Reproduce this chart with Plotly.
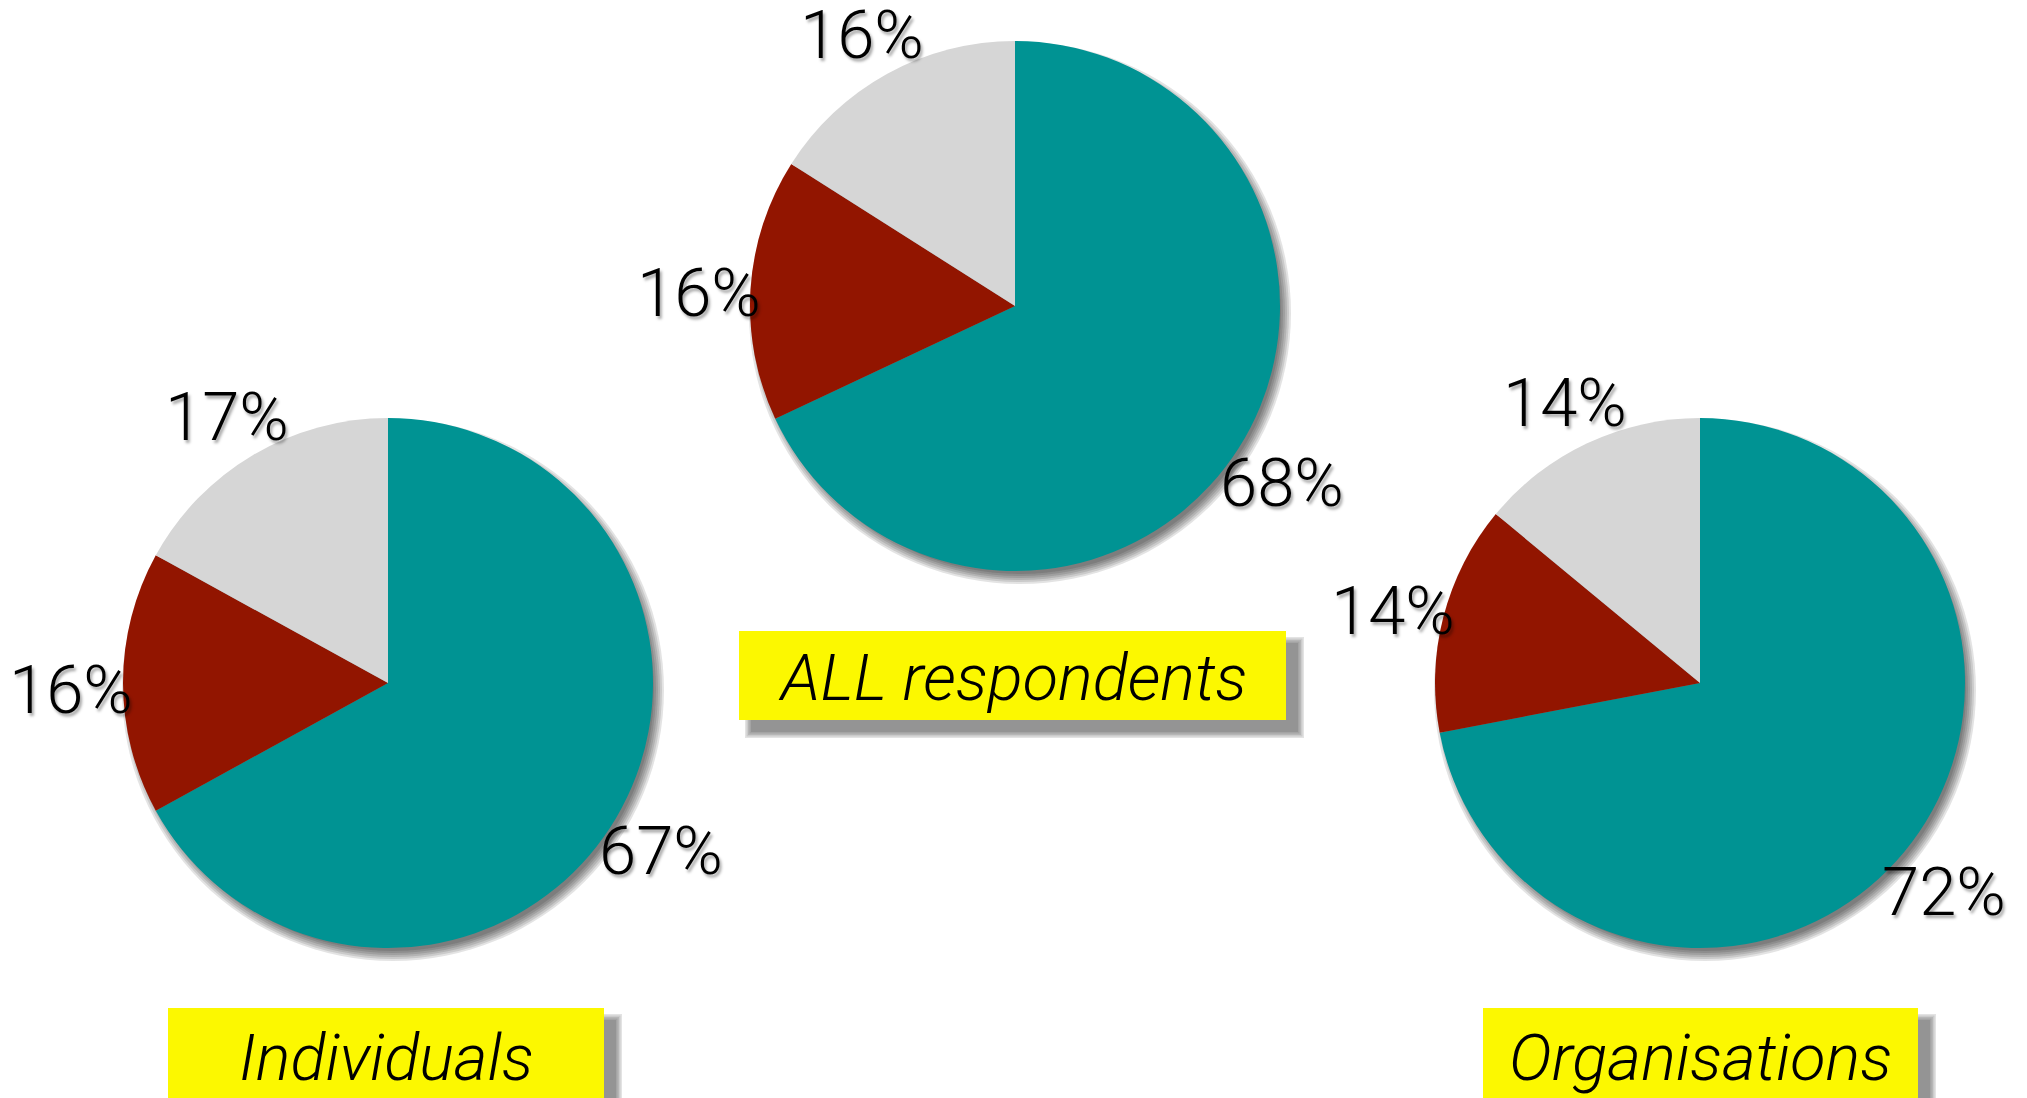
import math
import plotly.graph_objects as go

W, H = 2027, 1098

# data
groups = ["Individuals", "ALL respondents", "Organisations"]
slice_names = ["Response A", "Response B", "Response C"]
share_a = [67, 68, 72]
share_b = [16, 16, 14]
share_c = [17, 16, 14]

colours = ["#009393", "#921500", "#D6D6D6"]
yellow = "#FCF800"

# layout of the three pies (pixel centres, radius) and caption boxes
centres = [(388, 683), (1015, 306), (1700, 683)]
R = 265
boxes = [(168, 1008, 604, 1112), (739, 631, 1286, 720), (1483, 1008, 1918, 1112)]
caption_y = [1058, 678, 1058]

FONT = "Roboto"


def px(x):
    return x / W


def py(y):
    return 1 - y / H


fig = go.Figure()
shapes = []
annotations = []

for i, g in enumerate(groups):
    cx, cy = centres[i]
    vals = [share_a[i], share_b[i], share_c[i]]
    fig.add_trace(go.Pie(
        labels=slice_names, values=vals, name=g,
        sort=False, direction="clockwise", rotation=0,
        marker=dict(colors=colours, line=dict(width=0)),
        textinfo="none", hoverinfo="label+percent",
        domain=dict(x=[px(cx - R), px(cx + R)], y=[py(cy + R), py(cy - R)]),
    ))

    # soft drop shadow under the pie
    for k in range(6):
        rr = R - 4 + k * 2
        ox, oy = 5, 7
        shapes.append(dict(
            type="circle", xref="paper", yref="paper", layer="below",
            x0=px(cx + ox - rr), x1=px(cx + ox + rr),
            y0=py(cy + oy + rr), y1=py(cy + oy - rr),
            fillcolor="rgba(0,0,0,0.11)", line=dict(width=0),
        ))

    # percentage labels along each slice's mid angle
    total = sum(vals)
    cum = 0
    for v in vals:
        mid = (cum + v / 2) / total * 2 * math.pi
        cum += v
        lx = cx + 1.195 * R * math.sin(mid)
        ly = cy - 1.195 * R * math.cos(mid)
        annotations.append(dict(
            x=px(lx), y=py(ly), xref="paper", yref="paper", yshift=-7,
            text=f"{v}%", showarrow=False, xanchor="center", yanchor="middle",
            font=dict(family=FONT, size=67, color="#000000", weight=300,
                      shadow="2px 3px 3px rgba(0,0,0,0.35)"),
        ))

    # caption box with shadow
    x0, y0, x1, y1 = boxes[i]
    for k in range(5):
        e = k * 1.5
        shapes.append(dict(
            type="rect", xref="paper", yref="paper", layer="below",
            x0=px(x0 + 12 - e), x1=px(x1 + 12 + e),
            y0=py(y1 + 12 + e), y1=py(y0 + 12 - e),
            fillcolor="rgba(60,60,60,0.14)", line=dict(width=0),
        ))
    shapes.append(dict(
        type="rect", xref="paper", yref="paper", layer="below",
        x0=px(x0), x1=px(x1), y0=py(y1), y1=py(y0),
        fillcolor=yellow, line=dict(width=0),
    ))
    annotations.append(dict(
        x=px((x0 + x1) / 2), y=py(caption_y[i]), xref="paper", yref="paper",
        text=g, showarrow=False, xanchor="center", yanchor="middle",
        font=dict(family=FONT, size=65, color="#000000", weight=300, style="italic"),
    ))

fig.update_layout(
    width=W, height=H,
    margin=dict(l=0, r=0, t=0, b=0),
    paper_bgcolor="white", plot_bgcolor="white",
    showlegend=False,
    shapes=shapes, annotations=annotations,
)

fig.write_html("out.html", config=dict(displayModeBar=False),
               post_script="document.body.style.margin='0';document.body.style.overflow='hidden';")
